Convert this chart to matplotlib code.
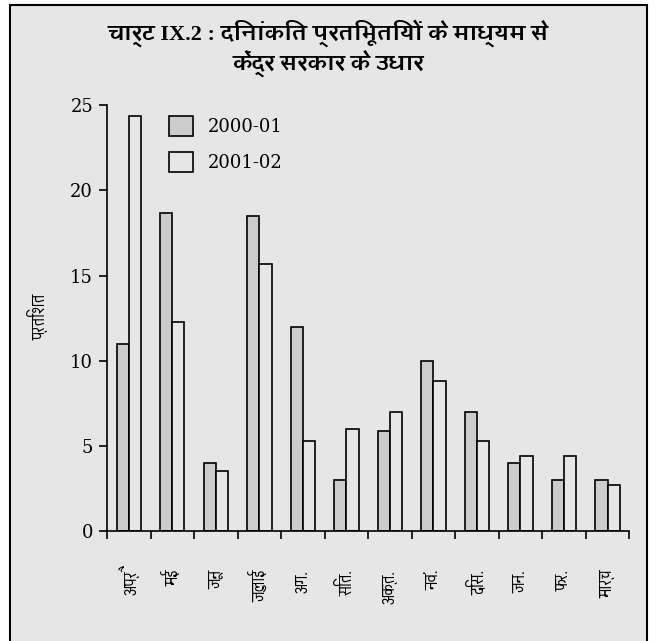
import matplotlib
matplotlib.use("Agg")
import matplotlib.pyplot as plt
from matplotlib.patches import Rectangle, Patch
from matplotlib import font_manager
from matplotlib.ft2font import FT2Font
import numpy as np

# data
months = ['अप्रै', 'मई', 'जून', 'जुलाई', 'अग.', 'सित.', 'अक्त.', 'नवं.', 'दिस.', 'जन.', 'फर.', 'मार्च']
y2000 = [11.0, 18.7, 4.0, 18.5, 12.0, 3.0, 5.9, 10.0, 7.0, 4.0, 3.0, 3.0]
y2001 = [24.4, 12.3, 3.5, 15.7, 5.3, 6.0, 7.0, 8.8, 5.3, 4.4, 4.4, 2.7]
series_names = ['2000-01', '2001-02']
title_lines = ['चार्ट IX.2 : दिनांकित प्रतिभूतियों के माध्यम से', 'केंद्र सरकार के उधार']
ylabel = 'प्रतिशत'


# look for installed fonts that have devanagari, prefer one that has a bold face
def find_font(ch):
    found = {}
    for f in font_manager.fontManager.ttflist:
        try:
            if ord(ch) in FT2Font(f.fname).get_charmap():
                found.setdefault(f.name, set()).add(f.weight)
        except Exception:
            pass
    if not found:
        return None, None
    names = sorted(found)
    bold = [n for n in names if any(wt in (700, 'bold') for wt in found[n])]
    return names[0], (bold[0] if bold else names[0])

deva, deva_bold = find_font('क')
serif = ['Liberation Serif'] + ([deva_bold] if deva_bold else []) + ['DejaVu Sans']
sans = ([deva] if deva else []) + ['DejaVu Sans']
num_font = 'DejaVu Serif'

BG = '#e6e6e6'
GRAY = '#cccccc'

W, H = 656, 641
fig = plt.figure(figsize=(W / 100, H / 100), dpi=100)
fig.patch.set_facecolor('white')

# outer frame (behind the axes)
frame = Rectangle((10 / W, -0.02), 637 / W, 1 - 5 / H + 0.02,
                  transform=fig.transFigure, facecolor=BG,
                  edgecolor='black', linewidth=1.5, zorder=-10)
fig.patches.append(frame)

ax = fig.add_axes([107 / W, 1 - 531 / H, (629.3 - 107) / W, (531 - 105.3) / H])
ax.set_facecolor('none')
ax.set_zorder(1)

x = np.arange(len(months)) + 0.5
w = 0.28
ax.bar(x - w / 2, y2000, w, color=GRAY, edgecolor='black', linewidth=1.2)
ax.bar(x + w / 2, y2001, w, color=BG, edgecolor='black', linewidth=1.2)

ax.set_xlim(0, len(months))
ax.set_ylim(0, 25)
for s in ['top', 'right']:
    ax.spines[s].set_visible(False)
for s in ['left', 'bottom']:
    ax.spines[s].set_linewidth(1.2)

ax.set_yticks([0, 5, 10, 15, 20, 25])
ax.tick_params(axis='y', direction='out', length=6, width=1.2, pad=4, labelsize=13)
for t in ax.get_yticklabels():
    t.set_fontfamily(num_font)

ax.set_xticks(np.arange(len(months) + 1))
ax.set_xticklabels([])
ax.tick_params(axis='x', which='major', direction='out', length=6, width=1.2)
ax.set_xticks(x, minor=True)
ax.set_xticklabels(months, minor=True, rotation=90, fontsize=13, family=sans)
ax.tick_params(axis='x', which='minor', length=0, pad=28)

fig.text(38 / W, 1 - 317 / H, ylabel, rotation=90, ha='center', va='center',
         fontsize=13, family=sans)

fig.text(0.5, 1 - 33 / H, title_lines[0], ha='center', va='center',
         fontsize=16, fontweight='bold', family=serif)
fig.text(0.5, 1 - 64 / H, title_lines[1], ha='center', va='center',
         fontsize=16, fontweight='bold', family=serif)

handles = [Patch(facecolor=GRAY, edgecolor='black', linewidth=1.2),
           Patch(facecolor=BG, edgecolor='black', linewidth=1.2)]
prop = font_manager.FontProperties(family=num_font, size=13)
fig.legend(handles, series_names, loc='upper left',
           bbox_to_anchor=(169.3 / W, 1 - 116 / H), frameon=False,
           prop=prop, handlelength=1.3, handleheight=1.3,
           handletextpad=0.85, labelspacing=0.9, borderpad=0, borderaxespad=0)

fig.savefig('out.png', dpi=100, facecolor='white')
